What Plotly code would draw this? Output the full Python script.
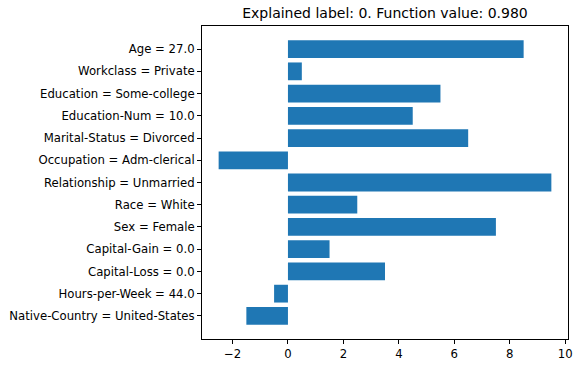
import plotly.graph_objects as go

features = [
    "Age = 27.0",
    "Workclass = Private",
    "Education = Some-college",
    "Education-Num = 10.0",
    "Marital-Status = Divorced",
    "Occupation = Adm-clerical",
    "Relationship = Unmarried",
    "Race = White",
    "Sex = Female",
    "Capital-Gain = 0.0",
    "Capital-Loss = 0.0",
    "Hours-per-Week = 44.0",
    "Native-Country = United-States",
]
weights = [8.5, 0.5, 5.5, 4.5, 6.5, -2.5, 9.5, 2.5, 7.5, 1.5, 3.5, -0.5, -1.5]
title = "Explained label: 0. Function value: 0.980"

font = "DejaVu Sans"

fig = go.Figure(go.Bar(
    x=weights,
    y=features,
    orientation="h",
    width=0.8,
    marker=dict(color="#1f77b4", line=dict(width=0)),
))

fig.update_layout(
    width=581, height=368, autosize=False,
    margin=dict(l=202, r=13, t=26, b=29, pad=0),
    plot_bgcolor="white", paper_bgcolor="white",
    font=dict(family=font, size=11.7, color="black"),
    showlegend=False,
    title=dict(text=title, x=(202 + 568) / 2 / 581, xanchor="center",
               y=1 - 13 / 368, yanchor="middle", automargin=False,
               font=dict(family=font, size=14, color="black")),
    xaxis=dict(
        range=[-3.1, 10.1], tickvals=[-2, 0, 2, 4, 6, 8, 10],
        ticktext=["\u22122", "0", "2", "4", "6", "8", "10"],
        showgrid=False, zeroline=False, automargin=False,
        showline=True, linecolor="black", linewidth=1, mirror=True,
        ticks="outside", ticklen=4, tickcolor="black",
    ),
    yaxis=dict(
        categoryorder="array", categoryarray=features,
        range=[13.04, -1.04],
        showgrid=False, zeroline=False, automargin=False,
        showline=True, linecolor="black", linewidth=1, mirror=True,
        ticks="outside", ticklen=4, tickcolor="black",
    ),
)

# page body has an 8px default margin; drop it so the figure sits at 0,0
fig.write_html("out.html",
               config=dict(displayModeBar=False, responsive=False),
               post_script="document.body.style.margin='0';"
                           "document.body.style.overflow='hidden';")
